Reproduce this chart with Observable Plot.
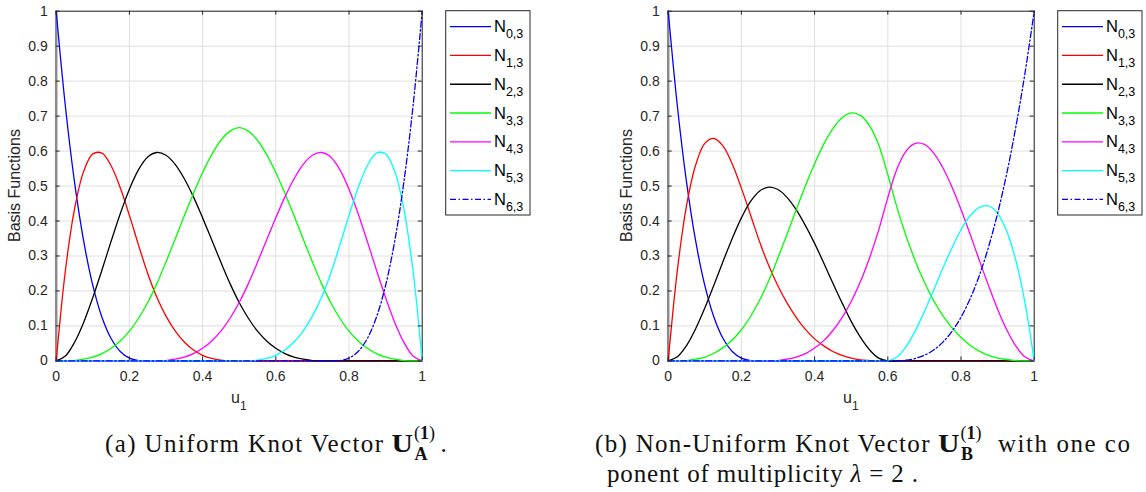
<!DOCTYPE html>
<html>
<head>
<meta charset="utf-8">
<script src="https://cdn.jsdelivr.net/npm/d3@7"></script>
<script src="https://cdn.jsdelivr.net/npm/@observablehq/plot@0.6"></script>
<style>
html, body { margin: 0; padding: 0; background: #fff; width: 1146px; height: 492px; overflow: hidden; }
#root { position: relative; width: 1146px; height: 492px; }
#root > svg { position: absolute; top: 0; }
</style>
</head>
<body>
<div id="root"></div>
<script>
// ---------- data ----------
const xs = [0,0.025,0.05,0.075,0.1,0.125,0.15,0.175,0.2,0.225,0.25,0.275,0.3,0.325,0.35,0.375,0.4,0.425,0.45,0.475,0.5,0.525,0.55,0.575,0.6,0.625,0.65,0.675,0.7,0.725,0.75,0.775,0.8,0.825,0.85,0.875,0.9,0.925,0.95,0.975,1];

// (a) uniform knot vector
const uniN0 = [1,0.729,0.512,0.343,0.216,0.125,0.064,0.027,0.008,0.001,0,0,0,0,0,0,0,0,0,0,0,0,0,0,0,0,0,0,0,0,0,0,0,0,0,0,0,0,0,0,0];
const uniN1 = [0,0.257,0.434,0.542,0.592,0.594,0.558,0.495,0.416,0.331,0.25,0.182,0.128,0.086,0.054,0.031,0.016,0.007,0.002,0,0,0,0,0,0,0,0,0,0,0,0,0,0,0,0,0,0,0,0,0,0];
const uniN2 = [0,0.014,0.053,0.11,0.181,0.26,0.342,0.421,0.491,0.547,0.583,0.596,0.588,0.562,0.521,0.469,0.409,0.346,0.282,0.221,0.167,0.122,0.085,0.057,0.036,0.021,0.011,0.005,0.001,0,0,0,0,0,0,0,0,0,0,0,0];
const uniN3 = [0,0,0.001,0.005,0.011,0.021,0.036,0.057,0.085,0.122,0.167,0.221,0.283,0.348,0.415,0.479,0.539,0.59,0.631,0.657,0.667,0.657,0.631,0.59,0.539,0.479,0.415,0.348,0.283,0.221,0.167,0.122,0.085,0.057,0.036,0.021,0.011,0.005,0.001,0,0];
const uniN4 = [0,0,0,0,0,0,0,0,0,0,0,0,0.001,0.005,0.011,0.021,0.036,0.057,0.085,0.122,0.167,0.221,0.282,0.346,0.409,0.469,0.521,0.562,0.588,0.596,0.583,0.547,0.491,0.421,0.342,0.26,0.181,0.11,0.053,0.014,0];
const uniN5 = [0,0,0,0,0,0,0,0,0,0,0,0,0,0,0,0,0,0,0,0,0,0,0.002,0.007,0.016,0.031,0.054,0.086,0.128,0.182,0.25,0.331,0.416,0.495,0.558,0.594,0.592,0.542,0.434,0.257,0];
const uniN6 = [0,0,0,0,0,0,0,0,0,0,0,0,0,0,0,0,0,0,0,0,0,0,0,0,0,0,0,0,0,0,0,0.001,0.008,0.027,0.064,0.125,0.216,0.343,0.512,0.729,1];

// (b) non-uniform knot vector
const nonN0 = [1,0.729,0.512,0.343,0.216,0.125,0.064,0.027,0.008,0.001,0,0,0,0,0,0,0,0,0,0,0,0,0,0,0,0,0,0,0,0,0,0,0,0,0,0,0,0,0,0,0];
const nonN1 = [0,0.259,0.443,0.56,0.622,0.636,0.614,0.563,0.494,0.417,0.34,0.272,0.214,0.165,0.124,0.09,0.063,0.043,0.027,0.016,0.008,0.003,0.001,0,0,0,0,0,0,0,0,0,0,0,0,0,0,0,0,0,0];
const nonN2 = [0,0.012,0.044,0.092,0.151,0.217,0.285,0.35,0.409,0.456,0.486,0.497,0.49,0.467,0.432,0.387,0.336,0.28,0.222,0.166,0.113,0.068,0.032,0.008,0,0,0,0,0,0,0,0,0,0,0,0,0,0,0,0,0];
const nonN3 = [0,0,0.001,0.005,0.011,0.022,0.038,0.06,0.089,0.127,0.174,0.23,0.295,0.363,0.433,0.501,0.564,0.62,0.664,0.695,0.709,0.702,0.673,0.618,0.533,0.439,0.357,0.286,0.225,0.173,0.13,0.095,0.067,0.045,0.028,0.016,0.008,0.004,0.001,0,0];
const nonN4 = [0,0,0,0,0,0,0,0,0,0,0,0,0.001,0.005,0.011,0.021,0.037,0.058,0.087,0.124,0.17,0.226,0.294,0.374,0.467,0.549,0.6,0.622,0.619,0.595,0.553,0.498,0.433,0.362,0.288,0.216,0.148,0.089,0.042,0.011,0];
const nonN5 = [0,0,0,0,0,0,0,0,0,0,0,0,0,0,0,0,0,0,0,0,0,0,0,0,0,0.011,0.041,0.086,0.141,0.201,0.264,0.323,0.375,0.415,0.439,0.443,0.422,0.371,0.287,0.165,0];
const nonN6 = [0,0,0,0,0,0,0,0,0,0,0,0,0,0,0,0,0,0,0,0,0,0,0,0,0,0,0.002,0.007,0.016,0.031,0.053,0.084,0.125,0.178,0.244,0.325,0.422,0.536,0.67,0.824,1];

const xTicks = [0, 0.2, 0.4, 0.6, 0.8, 1];
const yTicks = [0, 0.1, 0.2, 0.3, 0.4, 0.5, 0.6, 0.7, 0.8, 0.9, 1];
const seriesSubs = ["0,3", "1,3", "2,3", "3,3", "4,3", "5,3", "6,3"];
const seriesColors = ["#0000ff", "#ff0000", "#000000", "#00ff00", "#ff00ff", "#00ffff", "#0000ff"];
const seriesDash = [null, null, null, null, null, null, "6,2.5,1.5,2.5"];
const yLabel = "Basis Functions";
const xLabel = "u", xLabelSub = "1";

// ---------- layout ----------
const H = 420;
const pL = 55.7, pR = 421.7, pT = 10.7, pB = 360.4;
const axisColor = "#262626";
const fmt = d3.format("~g");

function makePanel(series, offset, svgWidth) {
  const tx = 4 / (pR - pL), ty = 4 / (pB - pT);
  const lines = series.map((ys, j) => Plot.line(ys, {
    x: (d, i) => xs[i], y: d => d,
    stroke: seriesColors[j], strokeWidth: 1.3,
    ...(seriesDash[j] ? {strokeDasharray: seriesDash[j]} : {}),
    curve: "catmull-rom"
  }));
  const chart = Plot.plot({
    width: svgWidth, height: H,
    marginLeft: pL, marginRight: svgWidth - pR, marginTop: pT, marginBottom: H - pB,
    x: {domain: [0, 1]}, y: {domain: [0, 1]},
    style: {fontFamily: "'Liberation Sans', Arial, Helvetica, sans-serif", fontSize: "14px", color: axisColor, background: "transparent", overflow: "visible"},
    marks: [
      Plot.gridX(xTicks, {stroke: "#dfdfdf", strokeOpacity: 1, strokeWidth: 1}),
      Plot.gridY(yTicks, {stroke: "#dfdfdf", strokeOpacity: 1, strokeWidth: 1}),
      Plot.frame({stroke: axisColor, strokeWidth: 1}),
      Plot.ruleX([0], {stroke: "#8a8a8a", strokeWidth: 2.5}),
      ...lines,
      Plot.ruleX(xTicks, {y1: 0, y2: ty, stroke: axisColor}),
      Plot.ruleX(xTicks, {y1: 1 - ty, y2: 1, stroke: axisColor}),
      Plot.ruleY(yTicks, {x1: 0, x2: tx, stroke: axisColor}),
      Plot.ruleY(yTicks, {x1: 1 - tx, x2: 1, stroke: axisColor}),
      Plot.axisX(xTicks, {tickSize: 0, tickPadding: 10.5, label: null, tickFormat: fmt, fontSize: 14}),
      Plot.axisY(yTicks, {tickSize: 0, tickPadding: 8.5, label: null, tickFormat: fmt, fontSize: 14})
    ]
  });
  chart.style.left = offset + "px";
  const svg = d3.select(chart);
  svg.append("text")
    .attr("transform", `translate(20,${(pT + pB) / 2}) rotate(-90)`)
    .attr("text-anchor", "middle").attr("fill", axisColor)
    .style("font-size", "16px").text(yLabel);
  const xl = svg.append("text").attr("x", 231).attr("y", 403).attr("text-anchor", "start")
    .attr("fill", axisColor).style("font-size", "16px");
  xl.append("tspan").text(xLabel);
  xl.append("tspan").attr("dy", 7).style("font-size", "12px").text(xLabelSub);

  // legend
  const lg = svg.append("g").attr("text-anchor", "start");
  lg.append("rect").attr("x", 445.7).attr("y", 10.7).attr("width", 84.3).attr("height", 204.3)
    .attr("fill", "#fff").attr("stroke", axisColor).attr("stroke-width", 1);
  seriesSubs.forEach((s, j) => {
    const y = 26.7 + j * 28.77;
    const ln = lg.append("line").attr("x1", 450).attr("x2", 491).attr("y1", y).attr("y2", y)
      .attr("stroke", seriesColors[j]).attr("stroke-width", 1.3);
    if (seriesDash[j]) ln.attr("stroke-dasharray", seriesDash[j]);
    const t = lg.append("text").attr("x", 494).attr("y", y + 5.5).attr("text-anchor", "start")
      .attr("fill", "#000").style("font-size", "16.5px");
    t.append("tspan").text("N");
    t.append("tspan").attr("dy", 6).style("font-size", "12.5px").text(s);
  });
  return chart;
}

const root = document.getElementById("root");
root.appendChild(makePanel([uniN0, uniN1, uniN2, uniN3, uniN4, uniN5, uniN6], 0, 612));
root.appendChild(makePanel([nonN0, nonN1, nonN2, nonN3, nonN4, nonN5, nonN6], 612, 534));

// ---------- captions ----------
const cap = d3.select(root).append("svg")
  .attr("width", 1146).attr("height", 77)
  .style("position", "absolute").style("left", "0px").style("top", "415px")
  .style("font-family", "'Liberation Serif', 'Times New Roman', serif").attr("fill", "#111");

function caption(x0, label, uX, sub) {
  cap.append("text").attr("x", x0).attr("y", 37).style("font-size", "25px")
    .attr("textLength", uX - 8.5 - x0).attr("lengthAdjust", "spacing").text(label);
  cap.append("text").attr("x", uX).attr("y", 37).style("font-size", "25px").style("font-weight", "bold")
    .attr("textLength", 21.5).attr("lengthAdjust", "spacingAndGlyphs").text("U");
  const sp = cap.append("text").attr("x", uX + 22.5).attr("y", 23.5).style("font-size", "18px");
  sp.append("tspan").text("(");
  sp.append("tspan").style("font-weight", "bold").text("1");
  sp.append("tspan").text(")");
  cap.append("text").attr("x", uX + 23).attr("y", 45).style("font-size", "18px").style("font-weight", "bold").text(sub);
}
caption(105, "(a) Uniform Knot Vector", 391.5, "A");
cap.append("text").attr("x", 440.5).attr("y", 37).style("font-size", "25px").text(".");
caption(595, "(b) Non-Uniform Knot Vector", 938, "B");
cap.append("text").attr("x", 998).attr("y", 37).style("font-size", "25px")
  .attr("textLength", 132).attr("lengthAdjust", "spacing").text("with one co");

const l2 = cap.append("text").attr("x", 607).attr("y", 67).style("font-size", "25px")
  .attr("textLength", 311).attr("lengthAdjust", "spacing");
l2.append("tspan").text("ponent of multiplicity ");
l2.append("tspan").style("font-style", "italic").text("λ");
l2.append("tspan").text(" = 2 .");
</script>
</body>
</html>
